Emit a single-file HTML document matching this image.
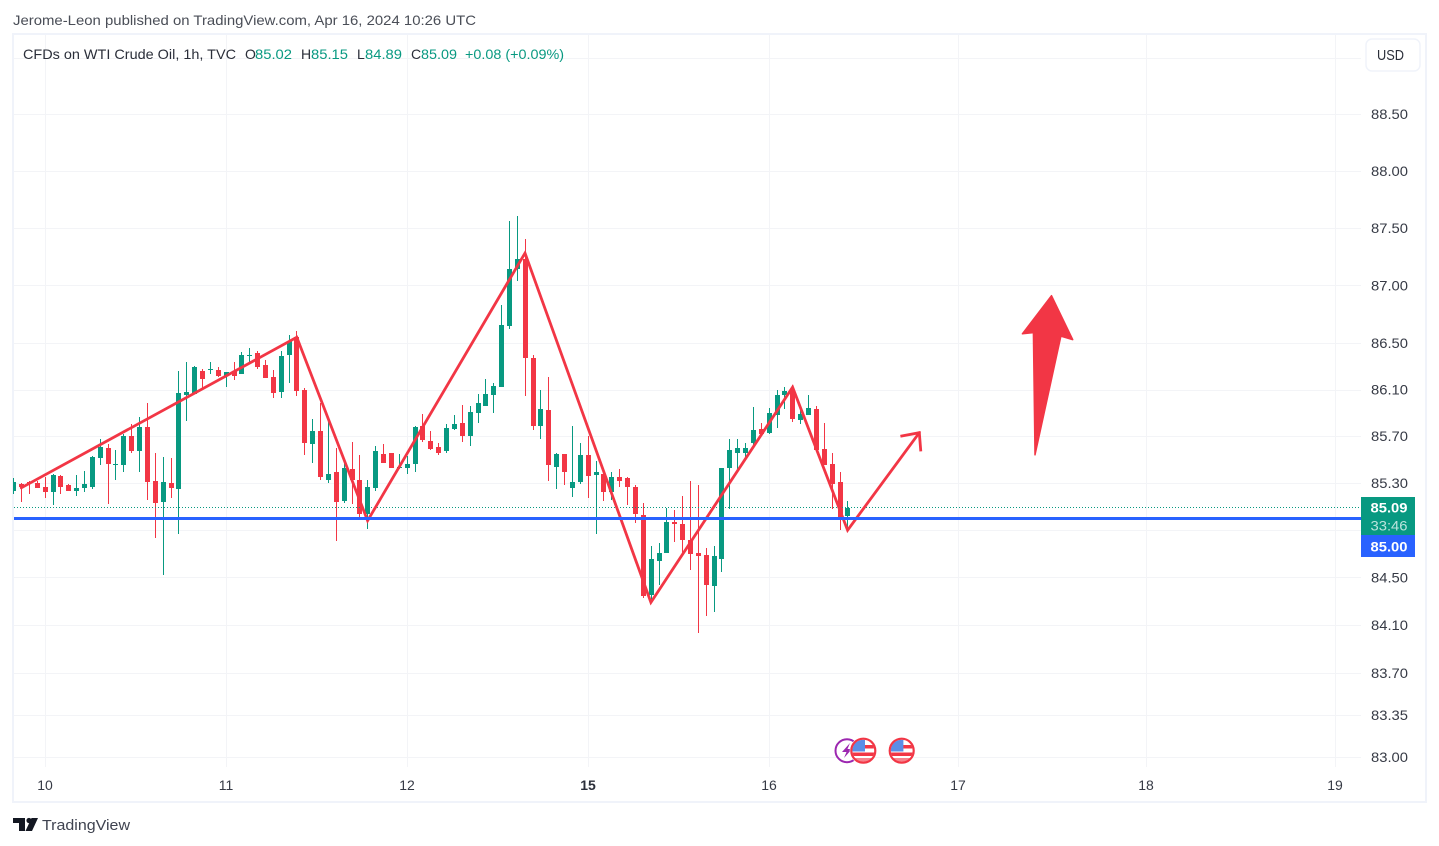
<!DOCTYPE html>
<html lang="en">
<head>
<meta charset="utf-8">
<title>CFDs on WTI Crude Oil, 1h</title>
<style>
html,body{margin:0;padding:0;background:#fff;width:1439px;height:846px;overflow:hidden}
svg{display:block;font-family:"Liberation Sans",sans-serif}
</style>
</head>
<body>
<svg id="chart" xmlns="http://www.w3.org/2000/svg" width="1439" height="846" viewBox="0 0 1439 846">
  <defs>
    <clipPath id="pane-clip"><rect x="13" y="35" width="1348" height="733"/></clipPath>
    <clipPath id="flag-clip-1"><circle cx="863.3" cy="750.7" r="11"/></clipPath>
    <clipPath id="flag-clip-2"><circle cx="901.7" cy="750.7" r="11"/></clipPath>
  </defs>
  <text x="13" y="25" font-size="14" fill="#4a4e57" textLength="463" lengthAdjust="spacingAndGlyphs">Jerome-Leon published on TradingView.com, Apr 16, 2024 10:26 UTC</text>
  <rect x="13" y="34" width="1413" height="768" fill="#fff" stroke="#f0f3fa" stroke-width="2"/>
  <g id="grid"></g>
  <g id="candles" clip-path="url(#pane-clip)"></g>
  <g id="overlays" clip-path="url(#pane-clip)"></g>
  <g id="events">
    <g>
      <circle cx="847" cy="750.7" r="11.5" fill="#fff" stroke="#9c27b0" stroke-width="2"/>
      <polygon points="850,743 842,752 846.5,752 844,758 852,749 847.5,749" fill="#9c27b0"/>
    </g>
    <g>
      <circle cx="863.3" cy="750.7" r="13.6" fill="#fff"/>
      <g clip-path="url(#flag-clip-1)">
        <rect x="864" y="745" width="12" height="3.5" fill="#f23645"/>
        <rect x="852" y="752.5" width="24" height="3.5" fill="#f23645"/>
        <rect x="852" y="758" width="24" height="4" fill="#f7828c"/>
        <rect x="852" y="739" width="13" height="12.5" fill="#5b8de6"/>
      </g>
      <circle cx="863.3" cy="750.7" r="12" fill="none" stroke="#f23645" stroke-width="2.2"/>
    </g>
    <g>
      <circle cx="901.7" cy="750.7" r="13.6" fill="#fff"/>
      <g clip-path="url(#flag-clip-2)">
        <rect x="902.4" y="745" width="12" height="3.5" fill="#f23645"/>
        <rect x="890.4" y="752.5" width="24" height="3.5" fill="#f23645"/>
        <rect x="890.4" y="758" width="24" height="4" fill="#f7828c"/>
        <rect x="890.4" y="739" width="13" height="12.5" fill="#5b8de6"/>
      </g>
      <circle cx="901.7" cy="750.7" r="12" fill="none" stroke="#f23645" stroke-width="2.2"/>
    </g>
  </g>
  <g id="y-axis"></g>
  <g id="x-axis"></g>
  <g id="legend" font-size="14">
    <text x="23" y="59" fill="#2a2e39" textLength="213" lengthAdjust="spacingAndGlyphs">CFDs on WTI Crude Oil, 1h, TVC</text>
    <text x="245" y="59" fill="#2a2e39">O</text>
    <text x="255" y="59" fill="#089981" textLength="37" lengthAdjust="spacingAndGlyphs">85.02</text>
    <text x="301" y="59" fill="#2a2e39">H</text>
    <text x="311" y="59" fill="#089981" textLength="37" lengthAdjust="spacingAndGlyphs">85.15</text>
    <text x="357" y="59" fill="#2a2e39">L</text>
    <text x="365" y="59" fill="#089981" textLength="37" lengthAdjust="spacingAndGlyphs">84.89</text>
    <text x="411" y="59" fill="#2a2e39">C</text>
    <text x="421" y="59" fill="#089981" textLength="36" lengthAdjust="spacingAndGlyphs">85.09</text>
    <text x="465" y="59" fill="#089981" textLength="99" lengthAdjust="spacingAndGlyphs">+0.08 (+0.09%)</text>
  </g>
  <g>
    <rect x="1366" y="39" width="54" height="32" rx="6" fill="#fff" stroke="#f0f3fa" stroke-width="1.5"/>
    <text x="1390.5" y="60" font-size="15" fill="#2a2e39" text-anchor="middle" textLength="27" lengthAdjust="spacingAndGlyphs">USD</text>
  </g>
  <g id="tags">
    <rect x="1361" y="497" width="54" height="38" fill="#089981"/>
    <rect x="1361" y="535" width="54" height="22" fill="#2962ff"/>
    <text x="1389" y="512.5" font-size="14" font-weight="bold" fill="#fff" text-anchor="middle" textLength="37" lengthAdjust="spacingAndGlyphs">85.09</text>
    <text x="1389" y="530.5" font-size="14" fill="#fff" fill-opacity="0.72" text-anchor="middle" textLength="37" lengthAdjust="spacingAndGlyphs">33:46</text>
    <text x="1389" y="551.5" font-size="14" font-weight="bold" fill="#fff" text-anchor="middle" textLength="37" lengthAdjust="spacingAndGlyphs">85.00</text>
  </g>
  <g>
    <polygon points="13,818 25,818 25,831 19,831 19,823 13,823" fill="#131722"/>
    <circle cx="29" cy="820.5" r="2.6" fill="#131722"/>
    <polygon points="31.5,818 38,818 32,831 25.5,831" fill="#131722"/>
    <text x="42" y="830" font-size="15" fill="#3f4350" textLength="88" lengthAdjust="spacingAndGlyphs">TradingView</text>
  </g>
</svg>
<script>
// ---- chart data ----
var opens = [85.23,85.29,85.31,85.30,85.27,85.22,85.36,85.28,85.23,85.26,85.27,85.51,85.60,85.45,85.45,85.70,85.57,85.78,85.32,85.14,85.30,85.25,86.05,86.06,86.26,86.27,86.27,86.22,86.26,86.23,86.39,86.41,86.31,86.21,86.08,86.40,86.55,86.10,85.63,85.74,85.33,85.39,85.15,85.42,85.33,85.04,85.26,85.55,85.56,85.43,85.43,85.46,85.79,85.66,85.61,85.57,85.76,85.81,85.70,85.90,85.96,86.05,86.12,86.65,87.14,87.23,86.37,85.79,85.92,85.44,85.55,85.26,85.31,85.54,85.37,85.38,85.22,85.35,85.34,85.27,85.03,84.35,84.64,84.71,84.97,84.95,84.82,84.71,84.69,84.43,84.66,85.43,85.56,85.56,85.64,85.76,85.73,85.88,86.05,86.10,85.84,85.88,85.93,85.59,85.46,85.31,85.02];
var highs = [85.34,85.30,85.32,85.32,85.35,85.38,85.37,85.29,85.37,85.40,85.53,85.68,85.63,85.58,85.72,85.80,85.86,85.98,85.56,85.52,85.51,86.26,86.34,86.30,86.28,86.34,86.29,86.25,86.34,86.42,86.46,86.43,86.35,86.27,86.43,86.57,86.60,86.11,85.85,85.98,85.86,85.60,85.50,85.65,85.54,85.33,85.62,85.63,85.56,85.55,85.53,85.79,85.89,85.74,85.64,85.80,85.88,85.97,85.96,86.06,86.19,86.16,86.83,87.56,87.60,87.40,86.40,86.10,86.21,85.56,85.55,85.79,85.64,85.70,85.49,85.43,85.39,85.42,85.35,85.28,85.13,84.77,84.79,85.09,85.07,85.19,85.32,85.28,84.75,84.77,85.43,85.68,85.68,85.64,85.95,85.81,85.94,86.10,86.12,86.14,85.93,86.05,85.96,85.81,85.56,85.39,85.15];
var lows = [85.21,85.14,85.21,85.26,85.17,85.11,85.21,85.23,85.19,85.22,85.25,85.45,85.12,85.33,85.39,85.56,85.39,85.16,84.83,84.52,85.17,84.87,85.83,86.06,86.11,86.23,86.21,86.12,86.18,86.23,86.32,86.28,86.20,86.03,86.03,86.16,86.04,85.54,85.47,85.33,85.30,84.81,85.13,85.12,85.01,84.91,85.23,85.47,85.43,85.42,85.38,85.39,85.65,85.58,85.54,85.56,85.75,85.65,85.62,85.81,85.96,85.90,86.12,86.62,87.04,86.04,85.75,85.68,85.32,85.25,85.28,85.18,85.29,85.17,84.87,85.15,85.16,85.27,85.11,84.96,84.33,84.29,84.44,84.71,84.80,84.71,84.56,84.03,84.18,84.21,84.55,85.08,85.41,85.51,85.61,85.71,85.72,85.77,85.93,85.82,85.80,85.88,85.58,85.45,85.08,84.90,84.89];
var closes = [85.31,85.27,85.30,85.26,85.22,85.37,85.27,85.23,85.26,85.29,85.52,85.61,85.46,85.46,85.70,85.57,85.78,85.31,85.13,85.31,85.26,86.07,86.08,86.29,86.19,86.28,86.22,86.25,86.22,86.40,86.40,86.29,86.20,86.07,86.39,86.52,86.09,85.64,85.74,85.35,85.38,85.14,85.43,85.33,85.04,85.27,85.57,85.47,85.43,85.44,85.46,85.78,85.67,85.59,85.56,85.77,85.80,85.70,85.91,85.98,86.06,86.13,86.66,87.14,87.23,86.37,85.79,85.93,85.45,85.55,85.39,85.31,85.54,85.36,85.39,85.22,85.35,85.32,85.27,85.04,84.34,84.66,84.71,84.97,84.95,84.82,84.70,84.68,84.44,84.68,85.43,85.58,85.60,85.60,85.75,85.72,85.90,86.05,86.09,85.85,85.89,85.94,85.58,85.45,85.29,85.01,85.09];
var gridPrices = [89,88.5,88,87.5,87,86.5,86.1,85.7,85.3,84.9,84.5,84.1,83.7,83.35,83];
var yTickLabels = ['88.50','88.00','87.50','87.00','86.50','86.10','85.70','85.30','84.50','84.10','83.70','83.35','83.00'];
var xTickBars = [4,27,50,73,96,120,144,168];
var xTickLabels = ['10','11','12','15','16','17','18','19'];
var lastPrice = [85.09];
var alertPrice = [85.00];
var trendBars = [1,36,45,65,81,99,106,115.1];
var trendPrices = [85.26,86.55,84.98,87.28,84.29,86.12,84.90,85.73];
var arrowHeadBars = [112.7,115.1,115.3];
var arrowHeadPrices = [85.70,85.73,85.57];
var bigArrowBars = [131.9,128.2,129.6,129.8,133.1,134.6];
var bigArrowPrices = [86.91,86.58,86.59,85.54,86.56,86.53];

// ---- axis functions ----
function xScale(i){ return 13.43 + 7.87 * i; }
function yScale(p){ return 114 + 10021 * Math.log(88.5 / p); }
var NS = 'http://www.w3.org/2000/svg';
function make(parent, tag, attrs, txt){
  var el = document.createElementNS(NS, tag);
  for (var k in attrs) el.setAttribute(k, attrs[k]);
  if (txt !== undefined) el.textContent = txt;
  parent.appendChild(el);
  return el;
}
var gridG = document.getElementById('grid');
var candleG = document.getElementById('candles');
var overlayG = document.getElementById('overlays');
var yAxisG = document.getElementById('y-axis');
var xAxisG = document.getElementById('x-axis');

// grid
gridPrices.forEach(function(p){
  var y = Math.round(yScale(p));
  var g = make(gridG, 'rect', {x:14, y:y, width:1347, height:1, fill:'#f3f4f7'});
  
  
});
xTickBars.forEach(function(b){
  var x = Math.floor(xScale(b) + 0.24);
  var g = make(gridG, 'rect', {x:x, y:35, width:1, height:732, fill:'#f3f4f7'});
  
  
});

// axis labels
yTickLabels.forEach(function(label){
  var t = make(yAxisG, 'text', {x:1371, y:yScale(parseFloat(label)) + 5, 'font-size':14, fill:'#363a45', textLength:37, lengthAdjust:'spacingAndGlyphs'}, label);
  
  
});
xTickBars.forEach(function(b, k){
  var bold = xTickLabels[k] === '15';
  var t = make(xAxisG, 'text', {x:Math.floor(xScale(b) + 0.24), y:790, 'font-size':14, 'font-weight':bold ? 'bold' : 'normal', fill:bold ? '#2a2e39' : '#363a45', 'text-anchor':'middle'}, xTickLabels[k]);
  
  
});

// candles
opens.forEach(function(o, i){
  var c = closes[i], up = c >= o, col = up ? '#089981' : '#f23645';
  var px = Math.floor(xScale(i) + 0.24);
  var top = Math.round(yScale(Math.max(o, c)));
  var bot = Math.round(yScale(Math.min(o, c)));
  var wt = Math.round(yScale(highs[i]));
  var wb = Math.round(yScale(lows[i]));
  var w = make(candleG, 'rect', {x:px, y:wt, width:1, height:Math.max(1, wb - wt), fill:col});
  
  
  var b = make(candleG, 'rect', {x:px - 2, y:top, width:5, height:Math.max(1, bot - top), fill:col});
  
  
});

function pts(bars, prices){
  return bars.map(function(b, i){ return xScale(b).toFixed(1) + ',' + yScale(prices[i]).toFixed(1); }).join(' ');
}

// last price dotted line
var lastY = Math.floor(yScale(lastPrice[0])) + 0.5;
var dotted = make(overlayG, 'line', {x1:14, x2:1361, y1:lastY, y2:lastY, stroke:'#089981', 'stroke-width':1, 'stroke-dasharray':'1 2'});



// zigzag trend line
var zig = make(overlayG, 'polyline', {points:pts(trendBars, trendPrices), fill:'none', stroke:'#f23645', 'stroke-width':2.8, 'stroke-linejoin':'miter', 'stroke-linecap':'round'});


var head = make(overlayG, 'polyline', {points:pts(arrowHeadBars, arrowHeadPrices), fill:'none', stroke:'#f23645', 'stroke-width':2.8, 'stroke-linecap':'butt', 'stroke-linejoin':'miter'});



// horizontal level
var levelY = Math.round(yScale(alertPrice[0]));
var level = make(overlayG, 'rect', {x:14, y:levelY - 1, width:1347, height:3, fill:'#2962ff'});



// big up arrow
var big = make(overlayG, 'polygon', {points:pts(bigArrowBars, bigArrowPrices), fill:'#f23645', stroke:'#f23645', 'stroke-width':1.5, 'stroke-linejoin':'round'});


</script>
</body>
</html>
